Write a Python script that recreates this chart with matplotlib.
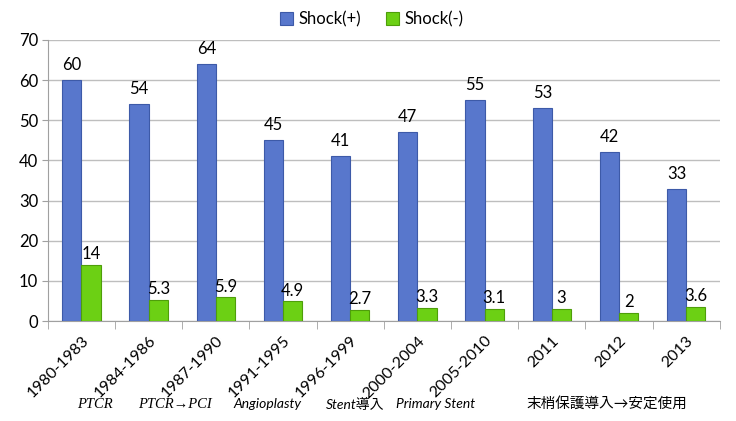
import numpy as np
import matplotlib
matplotlib.use("Agg")
import matplotlib.pyplot as plt
import matplotlib.transforms as mtransforms

plt.rcParams['font.family'] = ['Lato', 'Noto Sans CJK JP', 'DejaVu Sans']

periodos = ["1980-1983", "1984-1986", "1987-1990", "1991-1995", "1996-1999",
            "2000-2004", "2005-2010", "2011", "2012", "2013"]
shock_pos = [60, 54, 64, 45, 41, 47, 55, 53, 42, 33]
shock_neg = [14, 5.3, 5.9, 4.9, 2.7, 3.3, 3.1, 3, 2, 3.6]
etiquetas_neg = ["14", "5.3", "5.9", "4.9", "2.7", "3.3", "3.1", "3", "2", "3.6"]

azul = "#5877CC"
verde = "#6CD014"

fig = plt.figure(figsize=(7.36, 4.21), dpi=100)
ax = fig.add_axes([0.065, 0.2375, 0.913, 0.6675])

x = np.arange(len(periodos))
ancho = 0.285
b1 = ax.bar(x - ancho / 2, shock_pos, ancho, color=azul, edgecolor="#3D5AA8",
            linewidth=0.8, label="Shock(+)", zorder=3)
b2 = ax.bar(x + ancho / 2, shock_neg, ancho, color=verde, edgecolor="#4E9E0A",
            linewidth=0.8, label="Shock(-)", zorder=3)

# etiquetas de valor
for xi, v in zip(x, shock_pos):
    ax.annotate(str(v), (xi - ancho / 2, v), xytext=(0, 5), textcoords="offset points",
                ha="center", va="bottom", fontsize=12)
for xi, v, t in zip(x, shock_neg, etiquetas_neg):
    ax.annotate(t, (xi + ancho / 2, v), xytext=(0, 2), textcoords="offset points",
                ha="center", va="bottom", fontsize=12)

ax.set_xlim(-0.5, len(periodos) - 0.5)
ax.set_ylim(0, 70)
ax.set_yticks(range(0, 71, 10))
ax.tick_params(axis="y", labelsize=12, length=4, color="#A0A0A0", pad=3)
ax.yaxis.grid(True, color="#BEBEBE", linewidth=1, zorder=0)

# ticks de categorias
ax.set_xticks(x)
ax.set_xticklabels(periodos, rotation=45, ha="right", rotation_mode="anchor", fontsize=11.5)
ax.set_xticks(np.arange(-0.5, len(periodos), 1), minor=True)
ax.tick_params(axis="x", which="major", length=0, pad=9)
ax.tick_params(axis="x", which="minor", length=6, color="#A0A0A0")
desplaza = mtransforms.ScaledTranslation(0, 0, fig.dpi_scale_trans)
for lab in ax.get_xticklabels():
    lab.set_transform(lab.get_transform() + desplaza)

for s in ["top", "right"]:
    ax.spines[s].set_visible(False)
for s in ["left", "bottom"]:
    ax.spines[s].set_color("#A0A0A0")

fig.legend(handles=[b1, b2], loc="center", bbox_to_anchor=(0.505, 0.955), ncol=2,
           frameon=False, fontsize=12, handlelength=0.8, handleheight=0.8,
           handletextpad=0.3, columnspacing=1.5)

# anotaciones de tecnica
y_txt = 1 - 404 / 421
fig.text(95 / 736, y_txt, "PTCR", ha="center", va="center", fontsize=10.5,
         family=["Liberation Serif", "DejaVu Serif"], style="italic")
fig.text(175 / 736, y_txt, "PTCR→PCI", ha="center", va="center", fontsize=10.5,
         family=["Liberation Serif", "DejaVu Serif"], style="italic")
fig.text(267 / 736, y_txt, "Angioplasty", ha="center", va="center", fontsize=10, style="italic")
fig.text(355 / 736, y_txt, "Stent導入", ha="center", va="center", fontsize=10, style="italic")
fig.text(436 / 736, y_txt, "Primary Stent", ha="center", va="center", fontsize=10, style="italic")
fig.text(607 / 736, y_txt, "末梢保護導入→安定使用", ha="center", va="center", fontsize=10.5)

fig.savefig("out.png", dpi=100)
